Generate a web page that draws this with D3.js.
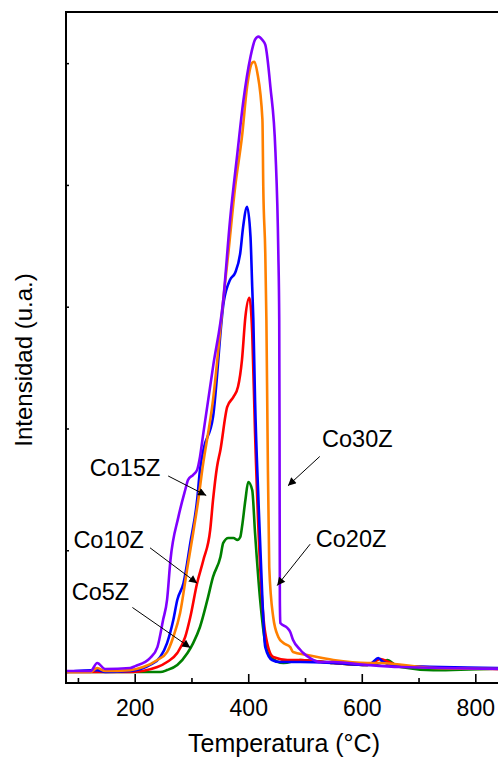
<!DOCTYPE html>
<html>
<head>
<meta charset="utf-8">
<script src="https://cdn.jsdelivr.net/npm/d3@7"></script>
<style>
  body { margin: 0; background: #fff; }
  text { font-family: Arial, "Liberation Sans", sans-serif; fill: #000; }
</style>
</head>
<body>
<div id="chart"></div>
<script>
var svgWidth = 498;
var svgHeight = 758;

// temperature (°C) and intensity (a.u.)
var tCo30 = [79, 122, 134, 148, 192, 201, 227, 240, 250, 257, 263, 277, 289, 294, 303, 310, 315, 321, 338, 356, 368, 381, 391, 404, 412, 418, 425, 430, 439, 448, 453, 454.6, 455.2, 455.7, 456.5, 469, 474, 479, 492, 497, 509, 527, 550, 610, 668, 853];
var iCo30 = [0.008, 0.008, 0.074, 0.025, 0.033, 0.049, 0.115, 0.205, 0.427, 0.592, 0.92, 1.274, 1.495, 1.578, 1.619, 1.66, 1.767, 1.964, 2.506, 3.057, 3.714, 4.265, 4.675, 5.053, 5.193, 5.218, 5.19, 5.152, 4.807, 4.265, 3.443, 2.892, 1.824, 0.592, 0.403, 0.362, 0.329, 0.263, 0.181, 0.156, 0.115, 0.082, 0.082, 0.058, 0.041, 0.025];

var tCo20 = [79, 122, 134, 148, 192, 215, 240, 257, 268, 280, 293, 303, 312, 319, 338, 356, 365, 377, 389, 398, 407, 411, 416, 425, 426.5, 430, 432, 434, 437, 444, 453, 462, 474, 479, 504, 550, 610, 633, 726, 853];
var iCo20 = [0, 0, 0.033, 0.008, 0.016, 0.041, 0.099, 0.164, 0.288, 0.485, 0.863, 1.142, 1.413, 1.66, 2.235, 3.057, 3.443, 3.985, 4.396, 4.807, 5.004, 5.012, 4.922, 4.536, 3.985, 3.443, 2.892, 1.964, 0.863, 0.452, 0.288, 0.238, 0.205, 0.164, 0.14, 0.099, 0.074, 0.074, 0.033, 0.025];

var tCo15 = [79, 134, 148, 192, 227, 245, 257, 268, 275, 286, 298, 310, 315, 321, 338, 357, 368, 377, 386, 391, 398, 404, 407, 409, 412, 418, 425, 430, 442, 456, 492, 550, 610, 618, 629, 638, 668, 853];
var iCo15 = [0, 0.016, 0, 0.008, 0.058, 0.123, 0.238, 0.427, 0.592, 0.731, 1.06, 1.413, 1.66, 1.824, 2.095, 3.045, 3.221, 3.279, 3.443, 3.656, 3.821, 3.574, 3.163, 2.892, 2.235, 1.413, 0.592, 0.205, 0.099, 0.082, 0.082, 0.074, 0.058, 0.074, 0.115, 0.082, 0.049, 0.033];

var tCo10 = [79, 192, 240, 257, 275, 289, 298, 310, 321, 333, 338, 345, 351, 363, 374, 382, 389, 395, 402, 407, 412, 421, 430, 444, 469, 492, 550, 610, 621, 633, 647, 668, 853];
var iCo10 = [0, 0, 0.041, 0.082, 0.156, 0.288, 0.452, 0.731, 0.92, 1.167, 1.413, 1.684, 1.824, 2.177, 2.259, 2.342, 2.564, 2.917, 3.073, 2.786, 1.964, 0.863, 0.32, 0.123, 0.099, 0.099, 0.074, 0.058, 0.082, 0.107, 0.082, 0.049, 0.025];

var tCo5 = [79, 245, 257, 275, 293, 303, 315, 328, 338, 351, 356, 365, 374, 381, 386, 389, 395, 400, 407, 412, 421, 430, 439, 462, 492, 550, 610, 633, 645, 659, 668, 726, 853];
var iCo5 = [0, 0, 0.016, 0.058, 0.156, 0.238, 0.37, 0.592, 0.781, 0.945, 1.06, 1.101, 1.101, 1.085, 1.109, 1.191, 1.413, 1.561, 1.495, 1.142, 0.592, 0.238, 0.123, 0.074, 0.099, 0.074, 0.058, 0.074, 0.099, 0.058, 0.041, 0.016, 0.033];

var seriesNames = ["Co5Z", "Co10Z", "Co15Z", "Co20Z", "Co30Z"];
var seriesT = [tCo5, tCo10, tCo15, tCo20, tCo30];
var seriesI = [iCo5, iCo10, iCo15, iCo20, iCo30];
var colors = ["#008000", "#ff0000", "#0000ff", "#ff8000", "#8000ff"];
// draw order (last on top)
var drawOrder = [0, 1, 2, 3, 4];

var majorTicks = [200, 400, 600, 800];
var minorTicks = [100, 300, 500, 700];
var yTicks = [1, 2, 3, 4, 5];

// annotation labels: text, label position, arrow start and arrow tip (data units)
var labels = ["Co30Z", "Co20Z", "Co15Z", "Co10Z", "Co5Z"];
var labelT = [530, 519, 121, 92, 89];
var labelI = [1.85, 1.03, 1.61, 1.02, 0.59];
var arrowFromT = [526, 509, 259, 227, 196];
var arrowFromI = [1.77, 1.05, 1.61, 1.02, 0.53];
var arrowToT = [470, 451, 326, 310, 298];
var arrowToI = [1.53, 0.71, 1.45, 0.73, 0.2];

var margin = { top: 12, left: 66 };
var plotRight = 505.4;
var plotBottom = 683;

var svg = d3.select("#chart")
  .append("svg")
  .attr("width", svgWidth)
  .attr("height", svgHeight);

var x = d3.scaleLinear().domain([79, 853]).range([margin.left, plotRight]);
var y = d3.scaleLinear().domain([-0.09, 5.42]).range([plotBottom, margin.top]);

var defs = svg.append("defs");
defs.append("clipPath").attr("id", "clip")
  .append("rect")
  .attr("x", margin.left).attr("y", margin.top)
  .attr("width", plotRight - margin.left).attr("height", plotBottom - margin.top);

defs.append("marker")
  .attr("id", "arrow")
  .attr("viewBox", "0 0 10 10")
  .attr("refX", 10).attr("refY", 5)
  .attr("markerWidth", 12).attr("markerHeight", 8)
  .attr("markerUnits", "userSpaceOnUse")
  .attr("orient", "auto")
  .append("path")
  .attr("d", "M0,0 L10,5 L0,10 Z")
  .attr("fill", "#000");

// curves
var line = d3.line()
  .x(d => x(d[0]))
  .y(d => y(d[1]))
  .curve(d3.curveMonotoneX);

var curves = svg.append("g").attr("clip-path", "url(#clip)");
drawOrder.forEach(function(k) {
  var pts = seriesT[k].map((t, i) => [t, seriesI[k][i]]);
  curves.append("path")
    .datum(pts)
    .attr("fill", "none")
    .attr("stroke", colors[k])
    .attr("stroke-width", 2.6)
    .attr("stroke-linejoin", "round")
    .attr("d", line);
});

// frame
svg.append("path")
  .attr("d", `M${plotRight},${margin.top} H${margin.left} V${plotBottom} H${plotRight}`)
  .attr("fill", "none")
  .attr("stroke", "#000")
  .attr("stroke-width", 2);

// x axis ticks (inward)
var bottomAxis = d3.axisBottom(x).tickValues(majorTicks).tickSize(-9).tickPadding(17).tickFormat(d3.format("d"));
var xAxisG = svg.append("g")
  .attr("transform", `translate(0, ${plotBottom})`)
  .call(bottomAxis);
xAxisG.select(".domain").remove();
xAxisG.selectAll("line").attr("stroke", "#000").attr("stroke-width", 1.6);
xAxisG.selectAll("text").attr("font-size", 23).attr("font-family", "Arial, 'Liberation Sans', sans-serif");

var minorAxis = d3.axisBottom(x).tickValues(minorTicks).tickSize(-5).tickFormat("");
var minorG = svg.append("g")
  .attr("transform", `translate(0, ${plotBottom})`)
  .call(minorAxis);
minorG.select(".domain").remove();
minorG.selectAll("line").attr("stroke", "#000").attr("stroke-width", 1.6);

// y axis ticks (inward, no labels)
var leftAxis = d3.axisLeft(y).tickValues(yTicks).tickSize(-3).tickFormat("");
var yAxisG = svg.append("g")
  .attr("transform", `translate(${margin.left}, 0)`)
  .call(leftAxis);
yAxisG.select(".domain").remove();
yAxisG.selectAll("line").attr("stroke", "#000").attr("stroke-width", 1.5);

// annotations
labels.forEach(function(name, i) {
  svg.append("line")
    .attr("x1", x(arrowFromT[i])).attr("y1", y(arrowFromI[i]))
    .attr("x2", x(arrowToT[i])).attr("y2", y(arrowToI[i]))
    .attr("stroke", "#000")
    .attr("stroke-width", 1)
    .attr("marker-end", "url(#arrow)");
  svg.append("text")
    .attr("x", x(labelT[i]))
    .attr("y", y(labelI[i]))
    .attr("font-size", 23.5)
    .text(name);
});

// axis titles
svg.append("text")
  .attr("x", 284)
  .attr("y", 752)
  .attr("text-anchor", "middle")
  .attr("font-size", 25)
  .text("Temperatura (°C)");

svg.append("text")
  .attr("transform", "rotate(-90)")
  .attr("x", -360)
  .attr("y", 32)
  .attr("text-anchor", "middle")
  .attr("font-size", 24)
  .text("Intensidad (u.a.)");
</script>
</body>
</html>
